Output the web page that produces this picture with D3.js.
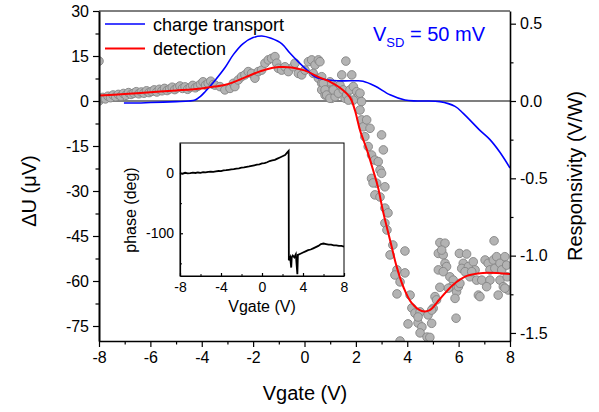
<!DOCTYPE html>
<html>
<head>
<meta charset="utf-8">
<script src="https://cdn.jsdelivr.net/npm/d3@7"></script>
<style>
  html, body { margin: 0; padding: 0; background: #fff; }
  svg { font-family: "Liberation Sans", Arial, sans-serif; display: block; }
  .axis path, .axis line { stroke: #000; }
  .axis text { fill: #000; }
</style>
</head>
<body>
<svg id="chart" width="599" height="412"></svg>
<script>
// measured signal (gray dots): [Vgate, dU in uV]
const dots = [
  [-8, 0], [-8, 13.3], [-7.95, 0.8], [-7.85, 1.2], [-7.75, 0.7], [-7.65, 1.6], [-7.55, 1.1],
  [-7.45, 2], [-7.35, 1.4], [-7.25, 2.2], [-7.15, 1.6], [-7.05, 2.5], [-6.95, 1.9], [-6.85, 2.8],
  [-6.75, 2.2], [-6.65, 2.6], [-6.55, 3.1], [-6.45, 2.4], [-6.35, 3], [-6.25, 2.6], [-6.15, 3.4],
  [-6.05, 2.8], [-5.95, 3.2], [-5.85, 3.7], [-5.75, 3.0], [-5.65, 3.9], [-5.55, 3.4], [-5.45, 4.2],
  [-5.35, 3.5], [-5.25, 4.0], [-5.15, 4.6], [-5.05, 3.8], [-4.95, 4.4], [-4.85, 5.0], [-4.75, 4.2],
  [-4.65, 4.7], [-4.55, 3.9], [-4.45, 4.5], [-4.35, 5.2], [-4.25, 4.4], [-4.15, 4.9], [-4.05, 5.6],
  [-3.95, 6.4], [-3.85, 5.3], [-3.75, 5.9], [-3.65, 6.6], [-3.55, 5.5],
  [-3.48, 5.3], [-3.29, 4.8], [-3.1, 3.7], [-2.9, 4.2], [-2.77, 5.9], [-2.71, 4.8], [-2.58, 7],
  [-2.45, 8.1], [-2.32, 8.7], [-2.19, 9.8], [-2.06, 9.2], [-1.93, 7.6], [-1.8, 9.8], [-1.67, 10.3],
  [-1.54, 12.6], [-1.41, 13.7], [-1.28, 14.2], [-1.15, 14.8], [-1.08, 12.6], [-1.02, 10.9],
  [-0.89, 10.3], [-0.76, 11.4], [-0.63, 9.8], [-0.44, 11.4], [-0.37, 12.6], [-0.24, 9.2],
  [-0.11, 8.7], [0.02, 10.3], [0.15, 13.1], [0.28, 13.7], [0.41, 12], [0.54, 13.7], [0.34, 9.2],
  [0.54, 7.6], [0.67, 5.9], [0.67, 3.7], [0.8, 2], [0.93, 4.2], [1.06, 0.9], [1.12, 5.3], [0.99, 6.4],
  [0.6, 13.1], [0.67, 8.1], [0.73, 5.9], [0.8, 3.7], [0.86, 2], [0.99, 0.9], [1.19, 1.4], [1.12, 3.7],
  [1.32, 2.6], [1.45, 8.7], [1.38, 5.3], [1.51, 3.7], [1.58, 0.9], [1.64, 2], [1.77, 3.7], [1.84, 8.7],
  [1.9, 4.8], [2.03, 3.1], [2.09, 1.4], [2.16, 2.6], [2.22, -0.2], [1.9, 0.3], [1.71, 0.3], [1.61, 13.3],
  [2.16, -3], [2.22, -6.3], [2.29, -8.6], [2.42, -6.3], [2.55, -9.1], [2.35, -11.9], [2.48, -15.2],
  [2.61, -18], [3.0, -11.3], [3.07, -16.3], [2.74, -19.7], [2.87, -20.2], [2.94, -23], [2.61, -25.8],
  [2.81, -27.4], [3.13, -28.6], [3.0, -24.1],
  [2.67, -27.3], [2.74, -31.3], [2.94, -32], [3.13, -35.7], [3.25, -37.3], [3.13, -40.7], [3.21, -43],
  [3.44, -48], [3.33, -51.3], [3.91, -50], [3.6, -56.3], [3.52, -58], [3.91, -57.3], [3.72, -60.3],
  [3.6, -64.3], [4.11, -64.7], [4.18, -69], [4.3, -70.7], [4.5, -70.3], [4.03, -74.3], [4.42, -74],
  [4.57, -75.3], [4.42, -72], [4.81, -71.3], [4.5, -77.3], [3.72, -80], [4.77, -78.7],
  [5.27, -47.2], [5.47, -47.4], [5.21, -50.8], [5.4, -51.3], [5.34, -49.7], [5.47, -54.1], [5.53, -55.2],
  [5.21, -56.3], [5.4, -56.9], [5.66, -58.6], [5.79, -59.7], [5.73, -61.9], [5.6, -62.4], [5.27, -62.1],
  [5.08, -65.2], [5.14, -66.3], [5.01, -69.1], [4.95, -69.7], [4.95, -74.1], [4.88, -78.8], [5.9, -72.4],
  [5.92, -63.6], [5.86, -65.8], [5.99, -61.9], [6.05, -60.8], [6.03, -50.8], [6.31, -51], [6.18, -54.1],
  [6.12, -55.8], [6.38, -55.2], [6.57, -53.6], [6.64, -56.3], [6.44, -58.6], [6.7, -59.7], [6.9, -59.7],
  [6.77, -64.7], [6.83, -65.2], [7.03, -53], [7.15, -54.1], [7.22, -56.3], [7.35, -53], [7.41, -55.8],
  [7.48, -51.9], [7.61, -54.1], [7.68, -56.3], [7.61, -59.7], [7.74, -61.9], [7.22, -59.7], [7.09, -61.9],
  [7.54, -64.7], [7.38, -46.6], [7.8, -51.9], [7.87, -54.7], [7.89, -58.6], [7.93, -63], [7.8, -62.4],
  [6.25, -56.9], [6.51, -56.9]
];

// detection fit (red): [Vgate, dU in uV]
const detection = [
  [-8, 1.8], [-7, 2.3], [-6, 2.9], [-5, 3.5], [-4, 4.2], [-3.5, 4.8], [-3, 5.6], [-2.5, 7.2],
  [-2, 9], [-1.5, 10.5], [-1, 11.3], [-0.5, 11.2], [0, 10.2], [0.6, 7.8], [1, 6.4], [1.38, 4.4],
  [1.77, 1.2], [1.96, -3], [2.16, -9.7], [2.43, -16.3], [2.67, -23], [2.86, -28.7], [3.07, -37.3],
  [3.33, -46.3], [3.59, -55.3], [3.85, -62], [4.17, -67.3], [4.56, -70], [4.88, -69.7], [5.27, -66],
  [5.78, -61.3], [6.32, -58.3], [6.95, -57.3], [8, -57.7]
];

// charge transport (blue): [Vgate, responsivity in V/W]
const transport = [
  [-7.03, -0.013], [-6.5, -0.013], [-6, -0.01], [-5, -0.004], [-4.5, 0], [-4.26, 0.006],
  [-4.05, 0.03], [-3.87, 0.06], [-3.5, 0.13], [-3.1, 0.215], [-2.77, 0.3], [-2.4, 0.37],
  [-2, 0.41], [-1.66, 0.42], [-1.3, 0.405], [-0.88, 0.37], [-0.57, 0.31], [-0.25, 0.255],
  [0.1, 0.2], [0.41, 0.157], [0.91, 0.136], [1.5, 0.13], [2.03, 0.131], [2.28, 0.128],
  [2.74, 0.097], [3.33, 0.04], [3.91, 0.006], [4.4, 0], [5.27, -0.004], [5.86, -0.035],
  [6.18, -0.08], [6.83, -0.19], [7.22, -0.25], [7.6, -0.33], [8, -0.433]
];

// inset: phase (deg) vs Vgate
const phase = [
  [-8, 0], [-7.75, -1], [-7.5, 0.5], [-7.25, -0.5], [-7, 0], [-6.75, 0.8], [-6.5, 0.2], [-6.25, 1],
  [-6, 0.5], [-5.75, 1.5], [-5.5, 1.2], [-5.25, 2], [-5, 2.5], [-4.75, 2], [-4.5, 3], [-4.25, 3.5],
  [-4, 3.2], [-3.75, 4.5], [-3.5, 4.8], [-3.25, 5.5], [-3, 6], [-2.75, 6.5], [-2.5, 7.5], [-2.25, 8],
  [-2, 9], [-1.75, 9.5], [-1.5, 10.5], [-1.25, 11], [-1, 12], [-0.75, 13], [-0.5, 14], [-0.25, 14.5],
  [0, 16], [0.25, 16.5], [0.5, 18], [0.75, 20], [1, 21], [1.25, 22], [1.5, 24], [1.75, 26], [2, 28],
  [2.25, 30], [2.45, 34], [2.6, 37], [2.62, -145], [2.75, -140], [2.85, -157], [2.9, -140],
  [3.0, -137], [3.15, -140], [3.3, -135], [3.45, -168], [3.5, -136], [3.75, -134], [4, -132],
  [4.25, -130], [4.5, -128], [4.75, -127], [5, -125], [5.25, -123], [5.5, -121], [5.75, -118],
  [6, -117], [6.25, -118], [6.5, -119], [6.75, -119], [7, -120], [7.25, -120], [7.5, -121],
  [7.75, -121], [8, -122]
];

const xTicks = [-8, -6, -4, -2, 0, 2, 4, 6, 8];
const xMinor = [-7, -5, -3, -1, 1, 3, 5, 7];
const yLeftTicks = [-75, -60, -45, -30, -15, 0, 15, 30];
const yLeftMinor = [-67.5, -52.5, -37.5, -22.5, -7.5, 7.5, 22.5];
const yRightTicks = [-1.5, -1.0, -0.5, 0.0, 0.5];
const yRightMinor = [-1.25, -0.75, -0.25, 0.25];
const insetXTicks = [-8, -4, 0, 4, 8];
const insetXMinor = [-6, -2, 2, 6];
const insetYTicks = [-100, 0];
const insetYMinor = [-150, -50];

const svg = d3.select("#chart");
const L = 99, R = 510, T = 11, B = 341;

const x = d3.scaleLinear().domain([-8, 8]).range([L, R]);
const y = d3.scaleLinear().domain([-80, 30]).range([B, T]);
const yR = d3.scaleLinear().domain([-1.552, 0.582]).range([B, T]);

svg.append("defs").append("clipPath").attr("id", "plotclip")
  .append("rect").attr("x", L).attr("y", T).attr("width", R - L).attr("height", B - T);

// top frame
svg.append("line").attr("x1", L).attr("x2", R).attr("y1", T).attr("y2", T)
  .attr("stroke", "#000").attr("stroke-width", 1);

// zero line
svg.append("line").attr("x1", L).attr("x2", R).attr("y1", y(0)).attr("y2", y(0))
  .attr("stroke", "#000").attr("stroke-width", 1.2);

const plot = svg.append("g").attr("clip-path", "url(#plotclip)");

plot.selectAll("circle.dot")
  .data(dots)
  .enter().append("circle")
  .attr("class", "dot")
  .attr("cx", d => x(d[0]))
  .attr("cy", d => y(d[1]))
  .attr("r", 4.3)
  .attr("fill", "#b3b3b3")
  .attr("stroke", "#858585")
  .attr("stroke-width", 0.9);

plot.append("path")
  .datum(transport)
  .attr("fill", "none")
  .attr("stroke", "#0000ff")
  .attr("stroke-width", 1.6)
  .attr("d", d3.line().x(d => x(d[0])).y(d => yR(d[1])).curve(d3.curveCatmullRom.alpha(0.5)));

plot.append("path")
  .datum(detection)
  .attr("fill", "none")
  .attr("stroke", "#ff0000")
  .attr("stroke-width", 2)
  .attr("d", d3.line().x(d => x(d[0])).y(d => y(d[1])).curve(d3.curveCatmullRom.alpha(0.5)));

// axes
function styleAxis(g, size) {
  g.selectAll("path").attr("stroke-width", 1.6);
  g.selectAll("line").attr("stroke-width", 1.2);
  g.selectAll("text").style("font-size", size + "px");
}

const gx = svg.append("g").attr("class", "axis")
  .attr("transform", `translate(0,${B})`)
  .call(d3.axisBottom(x).tickValues(xTicks).tickSize(6).tickSizeOuter(0).tickPadding(5));
styleAxis(gx, 16);
svg.append("g").attr("class", "axis")
  .attr("transform", `translate(0,${B})`)
  .call(d3.axisBottom(x).tickValues(xMinor).tickSize(3.5).tickSizeOuter(0).tickFormat(""))
  .call(g => g.select("path").remove())
  .selectAll("line").attr("stroke-width", 1.2);

const gy = svg.append("g").attr("class", "axis")
  .attr("transform", `translate(${L},0)`)
  .call(d3.axisLeft(y).tickValues(yLeftTicks).tickSize(6).tickSizeOuter(0).tickPadding(4));
styleAxis(gy, 16);
gy.select("path").attr("stroke-width", 2);
svg.append("g").attr("class", "axis")
  .attr("transform", `translate(${L},0)`)
  .call(d3.axisLeft(y).tickValues(yLeftMinor).tickSize(3.5).tickSizeOuter(0).tickFormat(""))
  .call(g => g.select("path").remove())
  .selectAll("line").attr("stroke-width", 1.2);

const gr = svg.append("g").attr("class", "axis")
  .attr("transform", `translate(${R},0)`)
  .call(d3.axisRight(yR).tickValues(yRightTicks).tickSize(6).tickSizeOuter(0).tickPadding(4)
    .tickFormat(d3.format(".1f")));
styleAxis(gr, 16);
gr.selectAll("text").text(d => d3.format(".1f")(d).replace("−", "-"));
svg.append("g").attr("class", "axis")
  .attr("transform", `translate(${R},0)`)
  .call(d3.axisRight(yR).tickValues(yRightMinor).tickSize(3.5).tickSizeOuter(0).tickFormat(""))
  .call(g => g.select("path").remove())
  .selectAll("line").attr("stroke-width", 1.2);

gx.selectAll("text").text(d => String(d));
gy.selectAll("text").text(d => String(d));

// axis titles
svg.append("text").attr("x", 305).attr("y", 400).attr("text-anchor", "middle")
  .style("font-size", "20px").text("Vgate (V)");
svg.append("text").attr("transform", "translate(36,191) rotate(-90)").attr("text-anchor", "middle")
  .style("font-size", "20px").text("ΔU (μV)");
svg.append("text").attr("transform", "translate(582,176) rotate(-90)").attr("text-anchor", "middle")
  .style("font-size", "20px").text("Responsivity (V/W)");

// legend
const legend = [
  { label: "charge transport", color: "#0000ff", width: 1.6 },
  { label: "detection", color: "#ff0000", width: 2 }
];
legend.forEach((d, i) => {
  const ly = 24 + i * 24.5;
  svg.append("line").attr("x1", 105).attr("x2", 145).attr("y1", ly).attr("y2", ly)
    .attr("stroke", d.color).attr("stroke-width", d.width);
  svg.append("text").attr("x", 153).attr("y", ly + 6.5).style("font-size", "18px").text(d.label);
});

// V_SD annotation
const vsd = svg.append("text").attr("x", 373).attr("y", 41).attr("fill", "#0000ff")
  .style("font-size", "20px");
vsd.append("tspan").text("V");
vsd.append("tspan").attr("dy", 6).style("font-size", "13px").text("SD");
vsd.append("tspan").attr("dy", -6).text(" = 50 mV");

// inset
const iL = 180, iR = 344, iT = 143, iB = 276;
const ix = d3.scaleLinear().domain([-8, 8]).range([iL, iR]);
const iy = d3.scaleLinear().domain([-171, 50]).range([iB, iT]);

svg.append("rect").attr("x", iL).attr("y", iT).attr("width", iR - iL).attr("height", iB - iT)
  .attr("fill", "#fff").attr("stroke", "#000").attr("stroke-width", 1);

svg.append("path")
  .datum(phase)
  .attr("fill", "none")
  .attr("stroke", "#000")
  .attr("stroke-width", 1.8)
  .attr("d", d3.line().x(d => ix(d[0])).y(d => iy(d[1])));

const igx = svg.append("g").attr("class", "axis")
  .attr("transform", `translate(0,${iB})`)
  .call(d3.axisBottom(ix).tickValues(insetXTicks).tickSize(-3).tickSizeOuter(0).tickPadding(6)
    .tickFormat(d => String(d)));
styleAxis(igx, 14);
igx.select("path").attr("stroke-width", 1.2);
svg.append("g").attr("class", "axis")
  .attr("transform", `translate(0,${iB})`)
  .call(d3.axisBottom(ix).tickValues(insetXMinor).tickSize(-2).tickSizeOuter(0).tickFormat(""))
  .call(g => g.select("path").remove());

const igy = svg.append("g").attr("class", "axis")
  .attr("transform", `translate(${iL},0)`)
  .call(d3.axisLeft(iy).tickValues(insetYTicks).tickSize(-3).tickSizeOuter(0).tickPadding(6)
    .tickFormat(d => String(d)));
styleAxis(igy, 14);
igy.select("path").attr("stroke-width", 1.2);
svg.append("g").attr("class", "axis")
  .attr("transform", `translate(${iL},0)`)
  .call(d3.axisLeft(iy).tickValues(insetYMinor).tickSize(-2).tickSizeOuter(0).tickFormat(""))
  .call(g => g.select("path").remove());

svg.append("text").attr("x", 262).attr("y", 312).attr("text-anchor", "middle")
  .style("font-size", "16px").text("Vgate (V)");
svg.append("text").attr("transform", "translate(136,210) rotate(-90)").attr("text-anchor", "middle")
  .style("font-size", "16px").text("phase (deg)");
</script>
</body>
</html>
